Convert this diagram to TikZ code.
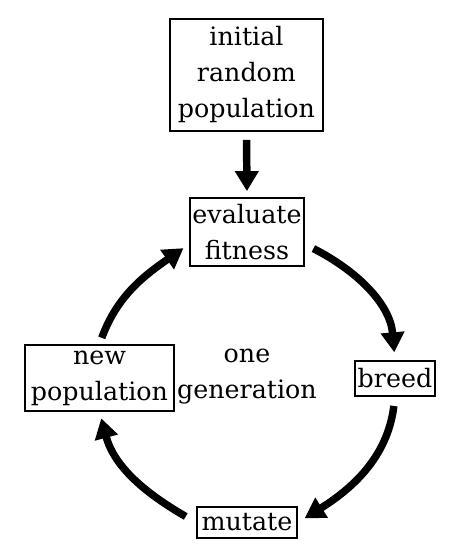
\documentclass[tikz,border=0pt]{standalone}
\usepackage{fontspec}
\setmainfont{DejaVu Serif}
\usetikzlibrary{arrows.meta}
\begin{document}
\begin{tikzpicture}[x=0.75pt,y=0.75pt,
  box/.style={draw,line width=1.3pt,align=center,inner sep=2pt,font=\fontsize{19}{27}\selectfont},
  gentext/.style={align=center,inner sep=0pt,font=\fontsize{19}{27}\selectfont},
  flow/.style={line width=5.6pt,-{Triangle[length=15pt,width=17pt]}}]
\useasboundingbox (0,0) rectangle (461,-557);
\node[box,minimum width=115pt,minimum height=84pt] (init) at (246.5,-75) {initial\\random\\population};
\node[box,minimum width=85.5pt,minimum height=51pt] (eval) at (247,-232) {evaluate\\fitness};
\node[box,minimum width=58.5pt,minimum height=26pt] (breed) at (395,-378.5) {breed};
\node[box,minimum width=75pt,minimum height=23pt] (mutate) at (247,-522.5) {mutate};
\node[box,minimum width=112pt,minimum height=49.5pt] (newpop) at (99.5,-378) {new\\population};
\node[gentext] (gen) at (247,-377) {one\\generation};
\draw[flow,shorten <=6pt,shorten >=4.5pt] (init.south) -- (eval.north);
\draw[flow,shorten <=7pt,shorten >=6pt] (eval.-12) to[out=-27,in=95] (breed.north);
\draw[flow,shorten <=7pt,shorten >=6pt] (breed.south) to[out=-97,in=32] (mutate.east);
\draw[flow,shorten <=9pt,shorten >=5pt] (mutate.west) to[out=150,in=-75] (newpop.south);
\draw[flow,shorten <=5pt,shorten >=5pt] (newpop.north) to[out=70,in=215] (eval.192);
\end{tikzpicture}
\end{document}
